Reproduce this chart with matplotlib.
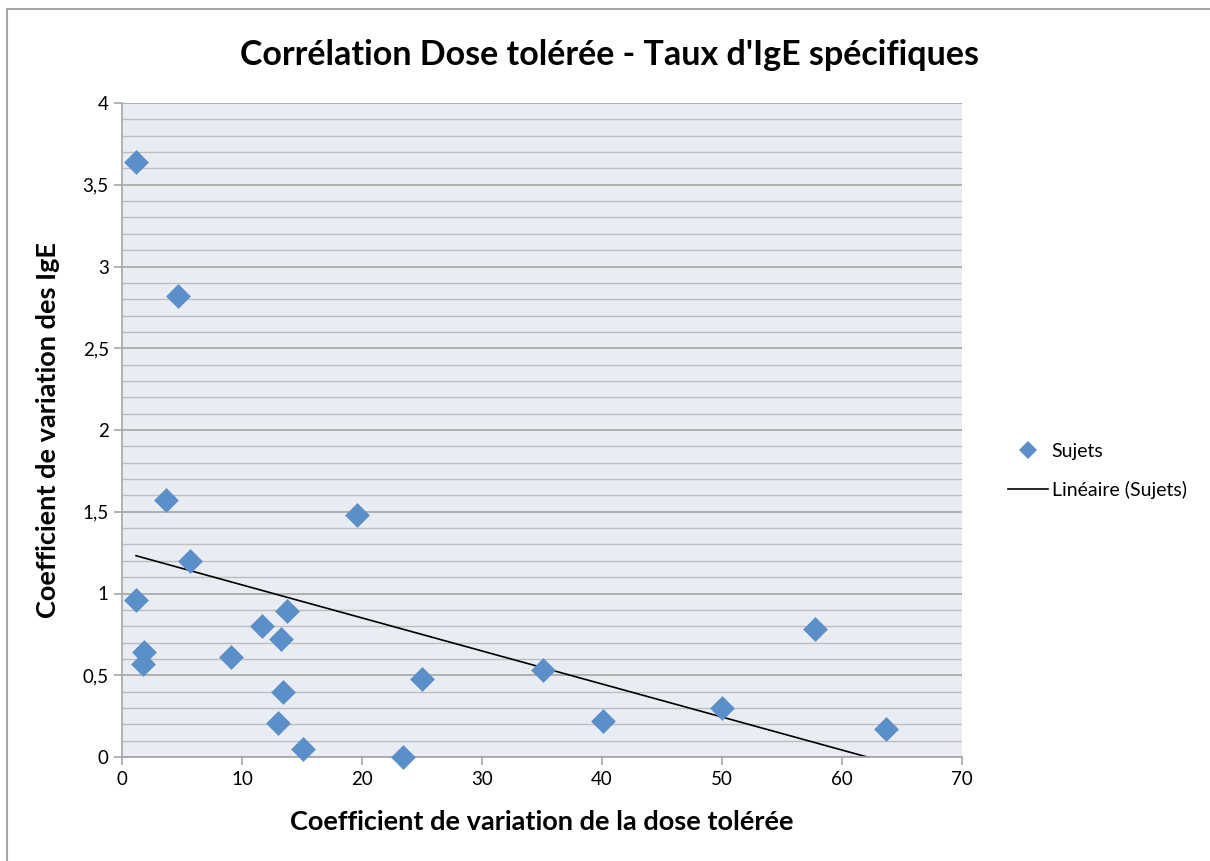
import numpy as np
import matplotlib
matplotlib.use("Agg")
import matplotlib.pyplot as plt
from matplotlib.lines import Line2D
from matplotlib.ticker import MultipleLocator, FuncFormatter

plt.rcParams['font.family'] = ['Lato', 'DejaVu Sans']

# Data
cv_dose = [1.17, 4.67, 3.67, 5.67, 19.6, 1.17, 1.83, 1.75, 9.08, 11.67, 13.25,
           13.75, 13.4, 13.0, 15.1, 23.4, 25.0, 35.1, 40.1, 50.0, 57.75, 63.7]
cv_ige = [3.64, 2.82, 1.57, 1.20, 1.48, 0.96, 0.64, 0.57, 0.61, 0.80, 0.72,
          0.89, 0.40, 0.21, 0.05, 0.00, 0.48, 0.53, 0.22, 0.30, 0.78, 0.17]

title = "Corrélation Dose tolérée - Taux d'IgE spécifiques"
xlabel = "Coefficient de variation de la dose tolérée"
ylabel = "Coefficient de variation des IgE"
series_label = "Sujets"
trend_label = "Linéaire (Sujets)"

blue = "#5B8FC9"

fig = plt.figure(figsize=(12.10, 8.61), dpi=100)
ax = fig.add_axes([122/1210, 1 - 757/861, (962-122)/1210, (757-103)/861])
ax.set_facecolor("#E9EDF3")

x = np.array(cv_dose)
y = np.array(cv_ige)
ax.scatter(x, y, marker='D', s=160, color=blue, zorder=3, clip_on=False, linewidths=0)

slope, intercept = np.polyfit(x, y, 1)
xs = np.array([x.min(), x.max()])
ax.plot(xs, slope * xs + intercept, color='black', lw=1.2, zorder=2)

ax.set_xlim(0, 70)
ax.set_ylim(0, 4)
ax.xaxis.set_major_locator(MultipleLocator(10))
ax.yaxis.set_major_locator(MultipleLocator(0.5))
ax.yaxis.set_minor_locator(MultipleLocator(0.1))
ax.yaxis.set_major_formatter(FuncFormatter(lambda v, p: ('%g' % v).replace('.', ',')))

ax.grid(axis='y', which='major', color='#A6A6A6', lw=1.2, zorder=0)
ax.grid(axis='y', which='minor', color='#BDBDBD', lw=1.0, zorder=0)
ax.set_axisbelow(True)

for s in ['top', 'right']:
    ax.spines[s].set_visible(False)
for s in ['left', 'bottom']:
    ax.spines[s].set_color('#A6A6A6')
    ax.spines[s].set_linewidth(1.2)

ax.tick_params(axis='both', which='major', direction='out', length=6, color='#A6A6A6',
               labelsize=13.5, labelcolor='black', width=1.2)
ax.tick_params(axis='y', which='minor', length=0)
ax.tick_params(axis='x', pad=4)

ax.set_xlabel(xlabel, fontsize=19.5, fontweight='bold', labelpad=16)
ax.set_ylabel(ylabel, fontsize=19.5, fontweight='bold', labelpad=16)

fig.text(610/1210, 1 - 55/861, title, fontsize=24.5, fontweight='bold', ha='center', va='center')

handles = [Line2D([], [], marker='D', color=blue, ls='none', markersize=9, markeredgewidth=0),
           Line2D([], [], color='black', lw=1.2)]
fig.legend(handles, [series_label, trend_label], loc='center left',
           bbox_to_anchor=(1008/1210, 1 - 471/861), frameon=False, fontsize=14,
           borderpad=0, borderaxespad=0,
           handlelength=2.05, handletextpad=0.2, labelspacing=1.05)

# outer chart border
fig.add_artist(Line2D([7/1210, 7/1210], [0, 1 - 9/861], transform=fig.transFigure, color='#A6A6A6', lw=1.5))
fig.add_artist(Line2D([7/1210, 1], [1 - 9/861, 1 - 9/861], transform=fig.transFigure, color='#A6A6A6', lw=1.5))

fig.savefig("out.png", dpi=100)
